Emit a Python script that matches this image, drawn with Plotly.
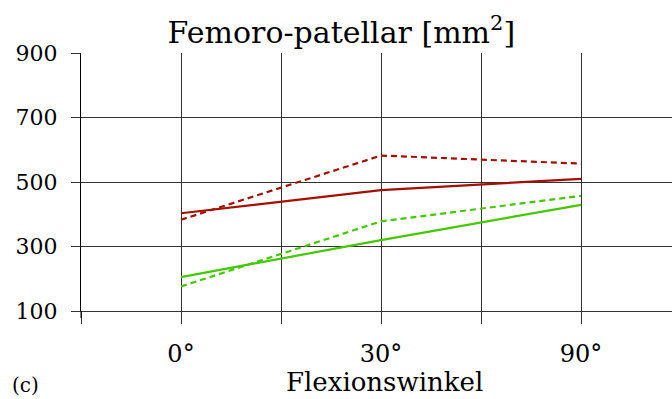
import plotly.graph_objects as go

categories = ["0°", "30°", "90°"]
cat_pos = [1, 3, 5]
red_solid = [403, 475, 510]
red_dashed = [383, 582, 557]
green_solid = [205, 320, 429]
green_dashed = [176, 378, 457]
y_ticks = [100, 300, 500, 700, 900]

RED = "#a31000"
GREEN = "#44c800"
FONT = "DejaVu Serif"

fig = go.Figure()
for vals, color, dash in [
    (red_solid, RED, "solid"),
    (red_dashed, RED, "6px,4px"),
    (green_solid, GREEN, "solid"),
    (green_dashed, GREEN, "6px,4px"),
]:
    fig.add_trace(go.Scatter(x=cat_pos, y=vals, mode="lines",
                             line=dict(color=color, width=2.2, dash=dash),
                             showlegend=False, hoverinfo="skip"))

PW, PH, L, T = 591, 258, 81, 53


def px(xp):
    return (xp - L) / PW


def py(yp):
    return (T + PH - yp) / PH


fig.update_layout(
    width=672, height=399,
    margin=dict(l=L, r=0, t=T, b=399 - T - PH),
    paper_bgcolor="white", plot_bgcolor="white",
    font=dict(family=FONT, size=22, color="black"),
    showlegend=False,
    title=dict(text="Femoro-patellar [mm<sup>2</sup>]", x=0.508, xref="container",
               xanchor="center", y=1 - 43 / 399, yref="container", yanchor="bottom",
               font=dict(family=FONT, size=30, color="black"), pad=dict(b=0)),
    xaxis=dict(range=[0, 5.91], tickmode="array", tickvals=cat_pos, ticktext=categories,
               showgrid=True, gridcolor="#333333", gridwidth=1,
               ticks="outside", ticklen=12, tickcolor="#333333", tickwidth=1,
               ticklabelstandoff=9,
               minor=dict(tick0=0, dtick=1, ticks="outside", ticklen=12,
                          tickcolor="#333333", tickwidth=1,
                          showgrid=True, gridcolor="#333333", gridwidth=1),
               showline=True, linecolor="#333333", linewidth=1,
               zeroline=False, fixedrange=True,
               tickfont=dict(family=FONT, size=24)),
    yaxis=dict(range=[100, 900], tickmode="array", tickvals=y_ticks,
               showgrid=True, gridcolor="#333333", gridwidth=1,
               ticks="outside", ticklen=9, tickcolor="#333333", tickwidth=1,
               ticklabelstandoff=9,
               showline=True, linecolor="black", linewidth=1,
               zeroline=False, fixedrange=True,
               tickfont=dict(family=FONT, size=22)),
)

fig.add_shape(type="line", xref="paper", yref="paper", x0=0, x1=0, y0=0, y1=py(318),
              line=dict(color="black", width=1))

fig.add_annotation(text="Flexionswinkel", x=px(384.5), xref="paper", y=py(382), yref="paper",
                   showarrow=False, xanchor="center", yanchor="middle",
                   font=dict(family=FONT, size=26, color="black"))
fig.add_annotation(text="(c)", x=px(26), xref="paper", y=py(385), yref="paper",
                   showarrow=False, xanchor="center", yanchor="middle",
                   font=dict(family=FONT, size=20, color="black"))

fig.write_html("out.html", config={"displayModeBar": False},
               post_script="document.body.style.margin='0';document.body.style.overflow='hidden';")
